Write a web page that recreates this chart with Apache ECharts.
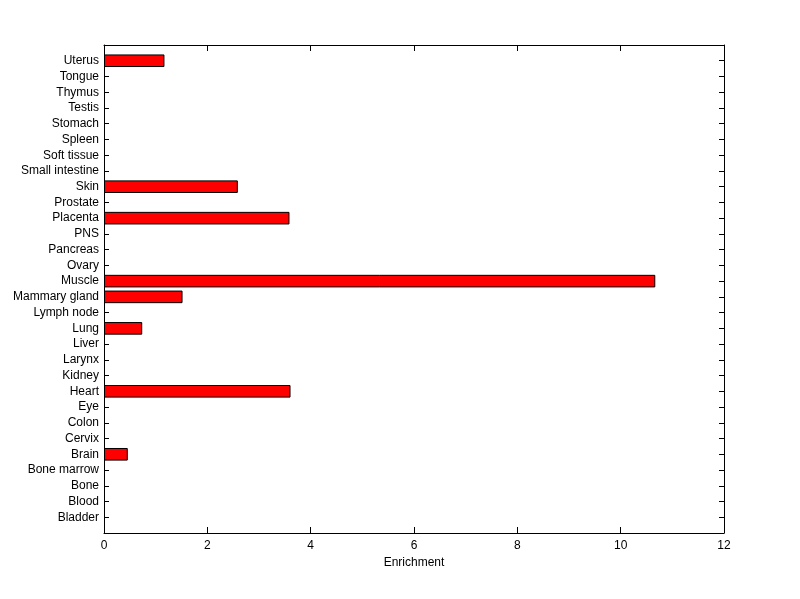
<!DOCTYPE html>
<html>
<head>
<meta charset="utf-8">
<script src="https://cdn.jsdelivr.net/npm/echarts@6/dist/echarts.min.js"></script>
<style>
html,body{margin:0;padding:0;background:#fff;}
#chart{width:800px;height:599px;}
</style>
</head>
<body>
<div id="chart"></div>
<script>
var categories = ['Bladder','Blood','Bone','Bone marrow','Brain','Cervix','Colon','Eye','Heart','Kidney','Larynx','Liver','Lung','Lymph node','Mammary gland','Muscle','Ovary','Pancreas','PNS','Placenta','Prostate','Skin','Small intestine','Soft tissue','Spleen','Stomach','Testis','Thymus','Tongue','Uterus'];
var enrichment = [0,0,0,0,0.46,0,0,0,3.61,0,0,0,0.74,0,1.52,10.67,0,0,0,3.59,0,2.59,0,0,0,0,0,0,0,1.17];
var xTicks = [0,2,4,6,8,10,12];
var xTitle = 'Enrichment';

// padded category list: empty slot at each end so ticks sit at integer positions of a 0..31 axis
var yCats = [''].concat(categories).concat(['']);
var barData = ['-'].concat(enrichment.map(function(v){ return v === 0 ? '-' : v; })).concat(['-']);

var font = 'Liberation Sans, Arial, sans-serif';
var lineStyle = {color:'#000', width:1};

var chart = echarts.init(document.getElementById('chart'), null, {renderer:'canvas'});
chart.setOption({
  backgroundColor:'#fff',
  animation:false,
  grid:{left:104, right:76, top:45, bottom:66, containLabel:false},
  xAxis:[
    {type:'value', position:'bottom', min:xTicks[0], max:xTicks[xTicks.length-1], interval:2,
     name:xTitle, nameLocation:'middle', nameGap:24,
     nameTextStyle:{color:'#000', fontFamily:font, fontSize:12},
     axisLine:{show:true, onZero:false, lineStyle:lineStyle},
     axisTick:{show:true, inside:true, length:6, lineStyle:lineStyle},
     axisLabel:{color:'#000', fontFamily:font, fontSize:12, margin:7},
     splitLine:{show:false}},
    {type:'value', position:'top', min:xTicks[0], max:xTicks[xTicks.length-1], interval:2,
     axisLine:{show:true, onZero:false, lineStyle:lineStyle},
     axisTick:{show:true, inside:true, length:6, lineStyle:lineStyle},
     axisLabel:{show:false},
     splitLine:{show:false}}
  ],
  yAxis:[
    {type:'category', position:'left', data:yCats, boundaryGap:false,
     axisLine:{show:true, onZero:false, lineStyle:lineStyle},
     axisTick:{show:true, inside:true, length:5, interval:0, lineStyle:lineStyle},
     axisLabel:{color:'#000', fontFamily:font, fontSize:12, margin:5, interval:0},
     splitLine:{show:false}},
    {type:'category', position:'right', data:yCats, boundaryGap:false,
     axisLine:{show:true, onZero:false, lineStyle:lineStyle},
     axisTick:{show:true, inside:true, length:5, interval:0, lineStyle:lineStyle},
     axisLabel:{show:false},
     splitLine:{show:false}}
  ],
  series:[{
    type:'bar', xAxisIndex:0, yAxisIndex:0,
    data:barData,
    barWidth:'80%',
    itemStyle:{color:'#ff0000', borderColor:'#000', borderWidth:1}
  }]
});
</script>
</body>
</html>
